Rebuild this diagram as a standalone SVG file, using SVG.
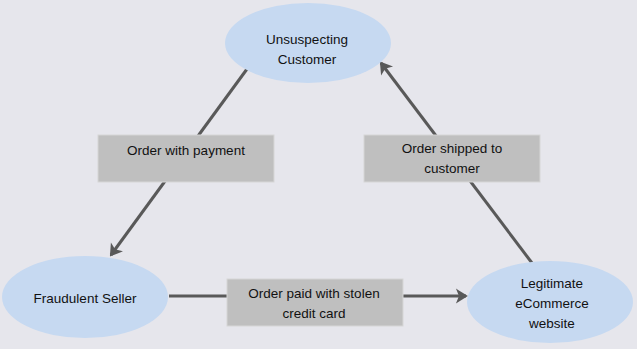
<svg xmlns="http://www.w3.org/2000/svg" width="637" height="349" viewBox="0 0 637 349">
<defs>
<marker id="arr" markerUnits="userSpaceOnUse" markerWidth="16" markerHeight="16" viewBox="0 0 16 16" refX="14" refY="8" orient="auto">
<path d="M6,3 L14,8 L6,13 L8,8 Z" fill="#595959" stroke="#595959" stroke-width="2" stroke-linejoin="miter"/>
</marker>
<style>
.node{fill:#c6d9f1;}
.box{fill:#bfbfbf;stroke:#d6d6d6;stroke-width:1;}
.t{font-family:"Liberation Sans",Arial,sans-serif;font-size:13.5px;fill:#111;text-anchor:middle;}
.c{stroke:#595959;stroke-width:3;fill:none;}
</style>
</defs>
<rect width="637" height="349" fill="#e6e6ec"/>
<g id="connectors">
<line class="c" x1="247" y1="69" x2="111" y2="255" marker-end="url(#arr)"/>
<line class="c" x1="532" y1="263" x2="381" y2="63" marker-end="url(#arr)"/>
<line class="c" x1="169" y1="296" x2="466" y2="296" marker-end="url(#arr)"/>
</g>
<g id="customer">
<ellipse class="node" cx="308" cy="43" rx="83" ry="40"/>
<text class="t" x="307" y="44">Unsuspecting</text>
<text class="t" x="307" y="64">Customer</text>
</g>
<g id="seller">
<ellipse class="node" cx="85" cy="297" rx="83" ry="41"/>
<text class="t" x="85" y="303">Fraudulent Seller</text>
</g>
<g id="website">
<ellipse class="node" cx="550" cy="302" rx="83" ry="41"/>
<text class="t" x="552" y="288">Legitimate</text>
<text class="t" x="552" y="308">eCommerce</text>
<text class="t" x="552" y="328">website</text>
</g>
<g id="label-payment">
<rect class="box" x="98" y="135" width="176" height="47"/>
<text class="t" x="186" y="155">Order with payment</text>
</g>
<g id="label-shipped">
<rect class="box" x="364" y="135" width="176" height="47"/>
<text class="t" x="452" y="153">Order shipped to</text>
<text class="t" x="452" y="173">customer</text>
</g>
<g id="label-stolen">
<rect class="box" x="227" y="279" width="176" height="47"/>
<text class="t" x="314" y="298">Order paid with stolen</text>
<text class="t" x="314" y="318">credit card</text>
</g>
</svg>
